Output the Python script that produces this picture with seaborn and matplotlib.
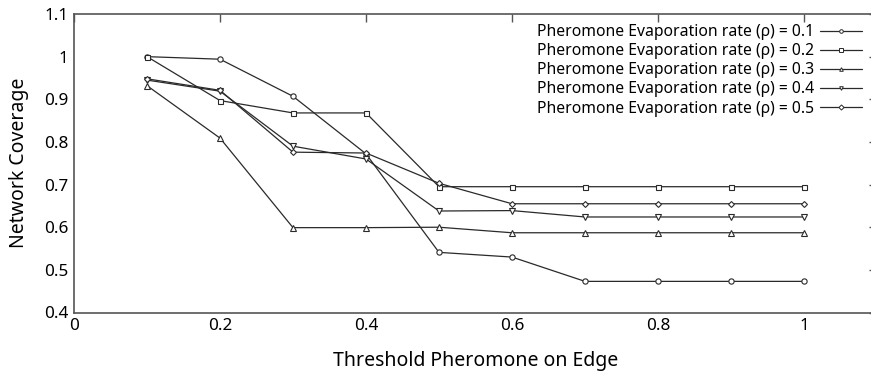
import matplotlib
matplotlib.use("Agg")
import matplotlib.pyplot as plt
import seaborn as sns
import pandas as pd
from matplotlib.ticker import FuncFormatter, MultipleLocator

# ---- data ----
thresholds = [0.1, 0.2, 0.3, 0.4, 0.5, 0.6, 0.7, 0.8, 0.9, 1.0]
rho_01 = [1.000, 0.994, 0.907, 0.772, 0.541, 0.530, 0.473, 0.473, 0.473, 0.473]
rho_02 = [1.000, 0.897, 0.868, 0.868, 0.695, 0.695, 0.695, 0.695, 0.695, 0.695]
rho_03 = [0.932, 0.809, 0.599, 0.599, 0.600, 0.587, 0.587, 0.587, 0.587, 0.587]
rho_04 = [0.945, 0.919, 0.790, 0.760, 0.638, 0.639, 0.624, 0.624, 0.624, 0.624]
rho_05 = [0.948, 0.921, 0.776, 0.774, 0.703, 0.655, 0.655, 0.655, 0.655, 0.655]
series_labels = ["Pheromone Evaporation rate (\u03c1) = 0.1",
                 "Pheromone Evaporation rate (\u03c1) = 0.2",
                 "Pheromone Evaporation rate (\u03c1) = 0.3",
                 "Pheromone Evaporation rate (\u03c1) = 0.4",
                 "Pheromone Evaporation rate (\u03c1) = 0.5"]
series_values = [rho_01, rho_02, rho_03, rho_04, rho_05]
markers = ["o", "s", "^", "v", "D"]
marker_sizes = [3.8, 3.6, 3.8, 3.8, 3.0]

sns.set_theme(style="white")
FONT = ["Noto Sans", "DejaVu Sans"]
plt.rcParams["font.family"] = FONT

rows = []
for lab, vals in zip(series_labels, series_values):
    for x, y in zip(thresholds, vals):
        rows.append({"threshold": x, "coverage": y, "series": lab})
df = pd.DataFrame(rows)

fig = plt.figure(figsize=(8.71, 3.72), dpi=100)
ax = fig.add_axes([74 / 871, 1 - 312.5 / 372, (877 - 74) / 871, (312.5 - 14) / 372])

LC = "#2a2a2a"
for lab, mk, ms in zip(series_labels, markers, marker_sizes):
    sub = df[df["series"] == lab]
    sns.lineplot(data=sub, x="threshold", y="coverage", ax=ax, label=lab,
                 color=LC, linewidth=0.9, marker=mk, markersize=ms,
                 markerfacecolor="white", markeredgecolor=LC,
                 markeredgewidth=0.8, legend=False)

ax.set_xlim(0, 1.1)
ax.set_ylim(0.4, 1.1)
ax.yaxis.set_major_locator(MultipleLocator(0.1))
fmt = FuncFormatter(lambda v, p: "%g" % round(v, 2))
ax.xaxis.set_major_formatter(fmt)
ax.yaxis.set_major_formatter(fmt)
ax.set_xticks([0, 0.2, 0.4, 0.6, 0.8, 1.0])
ax.tick_params(direction="in", length=6, width=1, color="#555555",
               top=True, right=True, labelsize=12.3, pad=4,
               labelcolor="black")
for sp in ax.spines.values():
    sp.set_color("#555555")
    sp.set_linewidth(1.2)

ax.set_xlabel("Threshold Pheromone on Edge", fontsize=14, color="black")
ax.set_ylabel("Network Coverage", fontsize=14, color="black")
ax.xaxis.set_label_coords(0.5, (312.5 - 361) / 298.5)
ax.xaxis.label.set_va("center")
ax.yaxis.set_label_coords((19 - 74) / 803, 0.5)
ax.yaxis.label.set_va("center")

handles, labels = ax.get_legend_handles_labels()
leg = ax.legend(handles, labels, loc="upper right",
                bbox_to_anchor=((862 - 74) / 803, 1 - 10 / 298.5),
                markerfirst=False, frameon=False, fontsize=11.3, handlelength=2.7,
                handletextpad=0.35, labelspacing=0.2, borderaxespad=0, borderpad=0)
for t in leg.get_texts():
    t.set_ha("right")
    t.set_color("black")
for h in leg.legend_handles:
    h.set_markersize(2.6)
    h.set_markeredgewidth(0.7)

fig.savefig("out.png", dpi=100, facecolor="white")
